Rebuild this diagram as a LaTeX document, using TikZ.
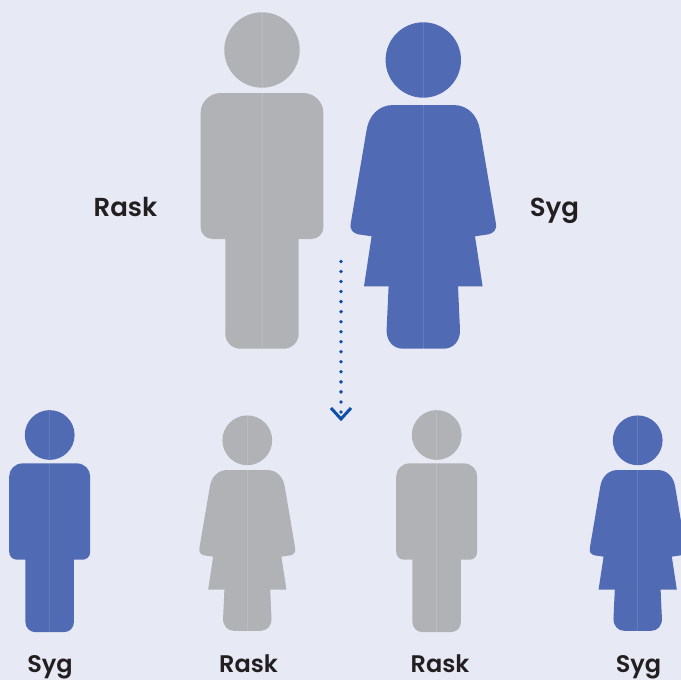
\documentclass[tikz,border=0pt]{standalone}
\usepackage{fontspec}
\setmainfont{Poppins}[BoldFont=* SemiBold]
\usetikzlibrary{arrows.meta}
\definecolor{bgpale}{HTML}{E7E9F5}
\definecolor{healthygray}{HTML}{B1B2B5}
\definecolor{sickblue}{HTML}{506BB3}
\definecolor{dotblue}{HTML}{0F4FA8}
\definecolor{labeltext}{HTML}{231F20}
\begin{document}
\begin{tikzpicture}[
        x=1pt, y=-1pt,
        label/.style={text=labeltext, font=\fontsize{26}{26}\selectfont\bfseries, inner sep=0pt, anchor=base},
        smalllabel/.style={label, font=\fontsize{24}{24}\selectfont\bfseries},
        inherit_arrow/.style={dotblue, line width=3.8pt, line cap=round, dash pattern=on 0pt off 10.03pt},
        seam/.style={white, opacity=0.12, line width=0.6pt},
        man/.pic={
            \fill[pic actions] (0,0) circle (37.7);
            \fill[pic actions] (-41,43) -- (41,43) .. controls (52.5,43) and (61.4,52) .. (61.4,63)
                -- (61.4,177) .. controls (61.4,184) and (56,189) .. (49.4,189)
                -- (36.7,189) -- (36.7,283.7) .. controls (36.7,292) and (30,298.7) .. (21.7,298.7)
                -- (-21.7,298.7) .. controls (-30,298.7) and (-36.7,292) .. (-36.7,283.7)
                -- (-36.7,189) -- (-49.4,189) .. controls (-56,189) and (-61.4,184) .. (-61.4,177)
                -- (-61.4,63) .. controls (-61.4,52) and (-52.5,43) .. (-41,43) -- cycle;
            \draw[seam] (0,-37.7) -- (0,37.7) (0,43) -- (0,298.7);
        },
        woman/.pic={
            \fill[pic actions] (0,0) circle (37.7);
            \fill[pic actions] (-30,45) -- (30,45) .. controls (45,45) and (54.5,56) .. (56.7,70)
                -- (72.5,163) .. controls (74,170) and (70,173) .. (65.3,174.3)
                -- (51.7,176.3) -- (59.3,226.3) -- (34.7,226.3) -- (36.7,270)
                .. controls (37,281) and (30,288.7) .. (20.3,288.7)
                -- (-20.3,288.7) .. controls (-30,288.7) and (-37,281) .. (-36.7,270)
                -- (-34.7,226.3) -- (-59.3,226.3) -- (-51.7,176.3) -- (-65.3,174.3)
                .. controls (-70,173) and (-74,170) .. (-72.5,163)
                -- (-56.7,70) .. controls (-54.5,56) and (-45,45) .. (-30,45) -- cycle;
            \draw[seam] (0,-37.7) -- (0,37.7) (0,45) -- (0,288.7);
        }
    ]
    \useasboundingbox (0,0) rectangle (681,680);
    \clip (0,0) rectangle (681,680);
    \fill[bgpale] (0,0) rectangle (681,680);

    % Parents
    \pic[fill=healthygray] (father) at (262,50) {man};
    \pic[fill=sickblue] (mother) at (423.3,60) {woman};
    \node[label] (fatherlabel) at (125.5,216) {Rask};
    \node[label] (motherlabel) at (554.5,216) {Syg};

    % Children
    \pic[fill=sickblue, scale=0.66] (childa) at (49.7,435) {man};
    \pic[fill=healthygray, scale=0.66] (childb) at (247.3,440.3) {woman};
    \pic[fill=healthygray, scale=0.66] (childc) at (436.7,435) {man};
    \pic[fill=sickblue, scale=0.66] (childd) at (637.7,440.3) {woman};
    \node[smalllabel] (childalabel) at (50,672) {Syg};
    \node[smalllabel] (childblabel) at (248.5,672) {Rask};
    \node[smalllabel] (childclabel) at (440,672) {Rask};
    \node[smalllabel] (childdlabel) at (638.5,672) {Syg};

    % Inheritance arrow
    \coordinate (arrowstart) at (341,261.5);
    \coordinate (arrowend) at (341,419);
    \draw[inherit_arrow] (arrowstart) -- (arrowend);
    \draw[dotblue, line width=3pt] (331,408) -- (arrowend) -- (351,408);
\end{tikzpicture}
\end{document}
